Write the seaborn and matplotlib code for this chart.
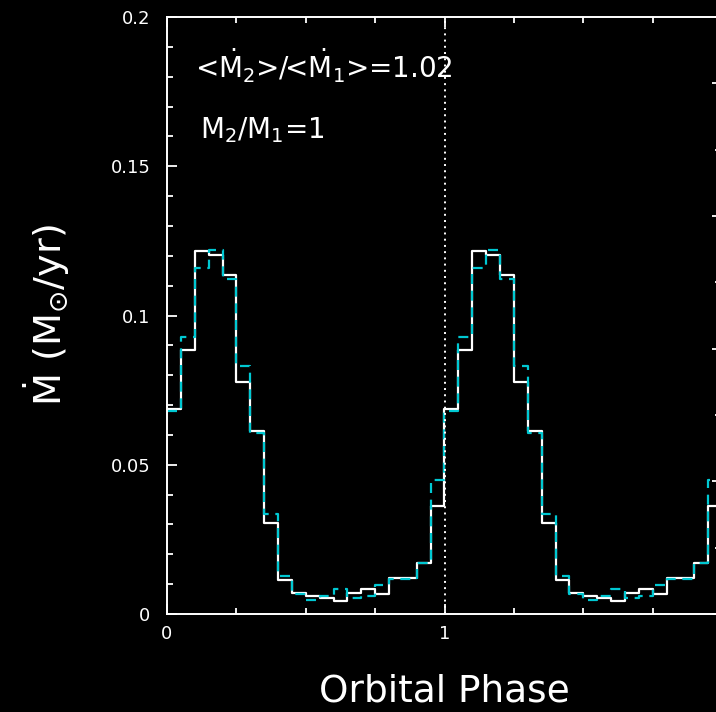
import numpy as np
import pandas as pd
import matplotlib
matplotlib.use("Agg")
import matplotlib.pyplot as plt
from matplotlib.ticker import MultipleLocator
import seaborn as sns

# ---- data (one orbital cycle, 20 phase bins; plotted twice) ----
bin_width = 0.05
mdot_white = [0.0686, 0.0884, 0.1216, 0.1202, 0.1135, 0.0777, 0.0613, 0.0304,
              0.0114, 0.0071, 0.0060, 0.0054, 0.0043, 0.0071, 0.0084, 0.0066,
              0.0122, 0.0122, 0.0170, 0.0363]
mdot_cyan = [0.0680, 0.0929, 0.1159, 0.1219, 0.1123, 0.0831, 0.0607, 0.0334,
             0.0127, 0.0066, 0.0048, 0.0060, 0.0084, 0.0055, 0.0061, 0.0096,
             0.0116, 0.0116, 0.0170, 0.0449]
n_cycles = 2
x_ticks = [0, 1, 2]
x_tick_labels = ["0", "1", ""]
y_ticks = [0, 0.05, 0.1, 0.15, 0.2]
y_tick_labels = ["0", "0.05", "0.1", "0.15", "0.2"]
text_ratio = r"<$\dot{\mathrm{M}}_2$>/<$\dot{\mathrm{M}}_1$>=1.02"
text_mass = r"M$_2$/M$_1$=1"
xlabel = "Orbital Phase"
ylabel = r"$\dot{\mathrm{M}}$ (M$_{\odot}$/yr)"

nb = len(mdot_white)
centers = (np.arange(nb * n_cycles) + 0.5) * bin_width
df = pd.DataFrame({
    "phase": np.concatenate([centers, centers]),
    "mdot": np.concatenate([np.tile(mdot_white, n_cycles), np.tile(mdot_cyan, n_cycles)]),
    "series": ["white"] * (nb * n_cycles) + ["cyan"] * (nb * n_cycles),
})

sns.set_theme(style="ticks")
plt.rcParams.update({
    "figure.facecolor": "black", "axes.facecolor": "black",
    "axes.edgecolor": "white", "text.color": "white",
    "axes.labelcolor": "white", "xtick.color": "white", "ytick.color": "white",
    "font.family": ["DejaVu Sans"], "mathtext.fontset": "dejavusans",
})

fig = plt.figure(figsize=(7.16, 7.12), dpi=100)
L, R, B, T = 167, 722, 614, 17
ax = fig.add_axes([L / 716, 1 - B / 712, (R - L) / 716, (B - T) / 712])

hist_kw = dict(x="phase", weights="mdot", binwidth=bin_width,
               binrange=(0, n_cycles), element="step", fill=False, ax=ax)
sns.histplot(data=df[df.series == "white"], color="white", linewidth=1.6, **hist_kw)
sns.histplot(data=df[df.series == "cyan"], color="#00c8d2", linewidth=1.6,
             linestyle=(0, (4.5, 3)), **hist_kw)
ax.axvline(1, color="white", linestyle=(0, (1, 2.2)), linewidth=1.4)

ax.set_xlim(0, 2)
ax.set_ylim(0, 0.2)
ax.set_xticks(x_ticks)
ax.set_xticklabels(x_tick_labels)
ax.xaxis.set_minor_locator(MultipleLocator(0.25))
ax.set_yticks(y_ticks)
ax.set_yticklabels(y_tick_labels)
ax.yaxis.set_minor_locator(MultipleLocator(0.01))
ax.tick_params(axis="x", which="both", direction="in", top=True, bottom=True,
               labelsize=13, pad=8, width=1.3)
ax.tick_params(axis="y", which="both", direction="in", left=True, right=False,
               labelsize=13, pad=12, width=1.3)
ax.tick_params(which="major", length=7.5)
ax.tick_params(which="minor", length=4.5)
for s in ax.spines.values():
    s.set_color("white")
    s.set_linewidth(1.4)

ax2 = ax.twinx()
ax2.set_ylim(0, 9)
ax2.yaxis.set_major_locator(MultipleLocator(2))
ax2.yaxis.set_minor_locator(MultipleLocator(1))
ax2.tick_params(axis="y", which="both", direction="in", labelright=False, width=1.3)
ax2.tick_params(which="major", length=7)
ax2.tick_params(which="minor", length=5)
for s in ax2.spines.values():
    s.set_visible(False)

ax.set_xlabel(xlabel, fontsize=27)
ax.set_ylabel(ylabel, fontsize=27.5)
ax.xaxis.set_label_coords(0.5, (B - 692) / (B - T))
ax.xaxis.label.set_va("center")
ax.yaxis.set_label_coords((47 - L) / (R - L), 0.5)
ax.yaxis.label.set_va("center")

ax.text((195 - L) / (R - L), (B - 78) / (B - T), text_ratio, transform=ax.transAxes,
        fontsize=20, color="white", va="baseline", ha="left")
ax.text((200 - L) / (R - L), (B - 138) / (B - T), text_mass, transform=ax.transAxes,
        fontsize=20, color="white", va="baseline", ha="left")

fig.savefig("out.png", dpi=100, facecolor="black")
